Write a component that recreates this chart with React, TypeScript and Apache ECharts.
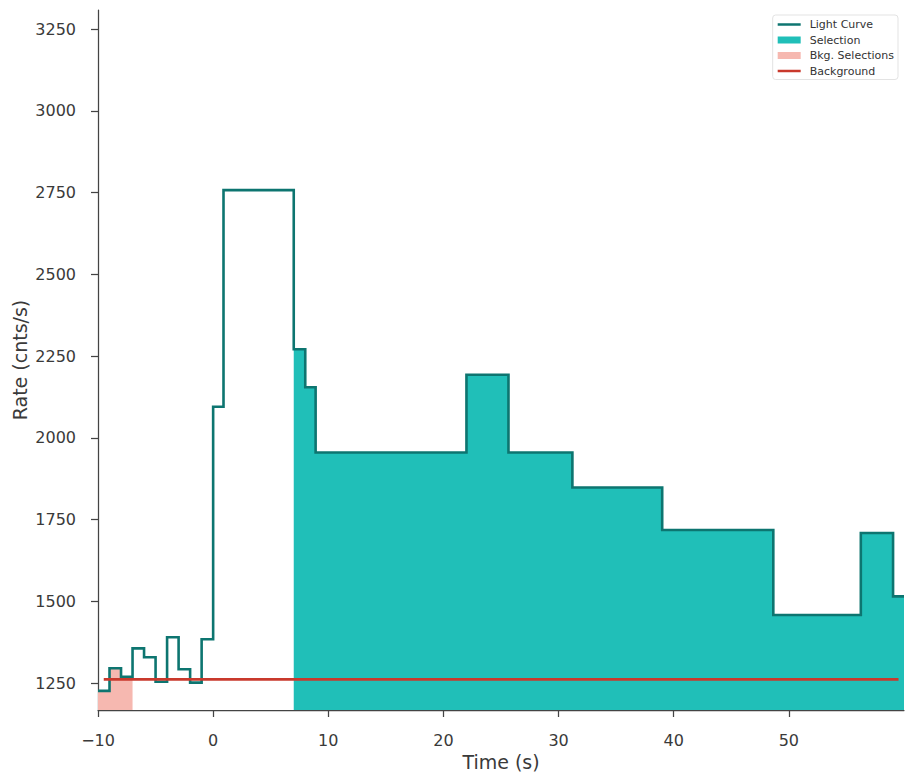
import React, { useEffect, useRef } from "react";
import * as echarts from "echarts";

// Bin edges (s) and rates (cnts/s) of the light curve
const binEdges = [-10, -9, -8, -7, -6, -5, -4, -3, -2, -1, 0, 0.9, 7, 8, 8.9, 22, 25.65, 31.2, 39, 48.65, 56.25, 59.05, 60];
const binRates = [1226, 1295, 1269, 1356, 1329, 1254, 1390, 1292, 1251, 1384, 2095, 2758, 2271, 2155, 1955, 2193, 1955, 1848, 1718, 1458, 1709, 1515];
const selectionRange = [7, 60];
const bkgSelectionRange = [-10, -7];
const backgroundLevel = 1261;
const xTicks = [-10, 0, 10, 20, 30, 40, 50];
const yTicks = [1250, 1500, 1750, 2000, 2250, 2500, 2750, 3000, 3250];

const stepPoints = (lo: number, hi: number) => {
  const pts: number[][] = [];
  for (let i = 0; i < binRates.length; i++) {
    const a = binEdges[i];
    const b = binEdges[i + 1];
    if (a >= lo - 1e-9 && b <= hi + 1e-9) {
      pts.push([a, binRates[i]]);
      pts.push([b, binRates[i]]);
    }
  }
  return pts;
};

const FONT = "DejaVu Sans";
const TEXT = "#3a3a3a";
const AXIS = "#444444";

export default function App() {
  const ref = useRef<HTMLDivElement>(null);
  useEffect(() => {
    if (!ref.current) return;
    const chart = echarts.init(ref.current, null, { renderer: "svg" });
    const centers = binRates.map((_, i) => (binEdges[i] + binEdges[i + 1]) / 2);
    const lineIcon = "path://M0,0 L23,0 L23,2.5 L0,2.5 Z";
    chart.setOption({
      animation: false,
      textStyle: { fontFamily: FONT },
      grid: { left: 98, right: 10, top: 10, bottom: 71, outerBoundsMode: "none", containLabel: false },
      legend: {
        orient: "vertical",
        right: 16,
        top: 15,
        backgroundColor: "#ffffff",
        borderColor: "#e3e3e3",
        borderWidth: 1,
        borderRadius: 3,
        padding: [4, 4, 3, 5],
        itemGap: 4.5,
        itemWidth: 23,
        itemHeight: 7,
        textStyle: { fontSize: 11, color: "#333", fontFamily: FONT, padding: [0, 0, 0, 4] },
        data: [
          { name: "Light Curve", icon: lineIcon },
          { name: "Selection", icon: "rect" },
          { name: "Bkg. Selections", icon: "rect" },
          { name: "Background", icon: lineIcon },
        ],
      },
      xAxis: {
        type: "value",
        min: -10,
        max: 60,
        name: "Time (s)",
        nameLocation: "middle",
        nameGap: 42,
        nameMoveOverlap: false,
        nameTextStyle: { fontSize: 19, color: TEXT, fontFamily: FONT },
        axisLine: { show: true, onZero: false, lineStyle: { color: AXIS, width: 1.25 } },
        axisTick: { show: true, length: 7, customValues: xTicks, lineStyle: { color: AXIS, width: 1.25 } },
        axisLabel: {
          customValues: xTicks,
          margin: 22,
          fontSize: 16,
          color: TEXT,
          fontFamily: FONT,
          formatter: (v: number) => (v < 0 ? "\u2212" + Math.abs(v) : String(v)),
        },
        splitLine: { show: false },
      },
      yAxis: {
        type: "value",
        min: 1167.4,
        max: 3309,
        name: "Rate (cnts/s)",
        nameLocation: "middle",
        nameGap: 69,
        nameMoveOverlap: false,
        nameTextStyle: { fontSize: 19, color: TEXT, fontFamily: FONT },
        axisLine: { show: true, onZero: false, lineStyle: { color: AXIS, width: 1.25 } },
        axisTick: { show: true, length: 7, customValues: yTicks, lineStyle: { color: AXIS, width: 1.25 } },
        axisLabel: {
          customValues: yTicks,
          margin: 22,
          fontSize: 16,
          color: TEXT,
          fontFamily: FONT,
          formatter: (v: number) => String(v),
        },
        splitLine: { show: false },
      },
      series: [
        {
          name: "Selection",
          type: "line",
          data: stepPoints(selectionRange[0], selectionRange[1]),
          symbol: "none",
          color: "#20bfb8",
          lineStyle: { width: 0, color: "#20bfb8" },
          itemStyle: { color: "#20bfb8" },
          areaStyle: { color: "#20bfb8", opacity: 1, origin: "start" },
          z: 1,
        },
        {
          name: "Bkg. Selections",
          type: "line",
          data: stepPoints(bkgSelectionRange[0], bkgSelectionRange[1]),
          symbol: "none",
          color: "#f6b8b0",
          lineStyle: { width: 0, color: "#f6b8b0" },
          itemStyle: { color: "#f6b8b0" },
          areaStyle: { color: "#f6b8b0", opacity: 1, origin: "start" },
          z: 1,
        },
        {
          name: "Light Curve",
          type: "line",
          data: stepPoints(binEdges[0], binEdges[binEdges.length - 1]),
          symbol: "none",
          color: "#0d7570",
          itemStyle: { color: "#0d7570" },
          lineStyle: { width: 2.6, color: "#0d7570", join: "miter" },
          z: 2,
        },
        {
          name: "Background",
          type: "line",
          data: [
            [centers[0], backgroundLevel],
            [centers[centers.length - 1], backgroundLevel],
          ],
          symbol: "none",
          color: "#c9392c",
          itemStyle: { color: "#c9392c" },
          lineStyle: { width: 2.6, color: "#c9392c" },
          z: 3,
        },
      ],
    });
    return () => chart.dispose();
  }, []);
  return (
    <div
      ref={ref}
      style={{ position: "absolute", left: 0, top: 0, width: 914, height: 781, background: "#fff" }}
    />
  );
}
